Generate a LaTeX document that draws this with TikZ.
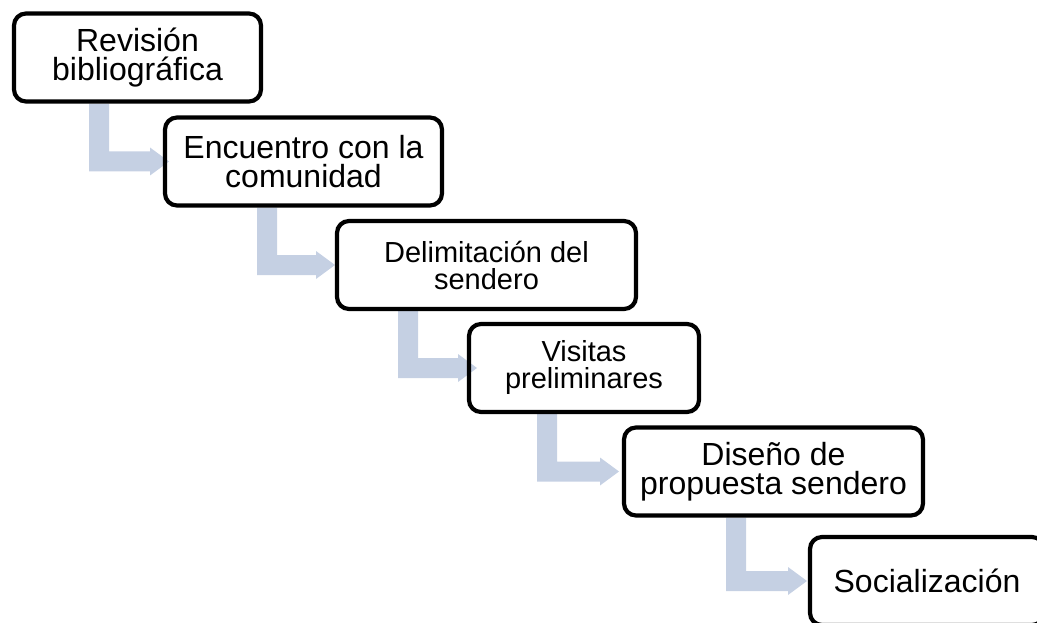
\documentclass[tikz,border=0pt]{standalone}
\usepackage{fontspec}
\setmainfont{Liberation Sans}
\usetikzlibrary{calc}
\definecolor{arrowblue}{RGB}{197,208,227}
\tikzset{
  stepbox/.style={draw=black, line width=4.2pt, rounded corners=12pt, align=center,
    minimum height=88pt, inner sep=2pt, font=\fontsize{32}{29.5}\selectfont},
  smallbox/.style={stepbox, font=\fontsize{29}{27}\selectfont},
  flowarr/.style={fill=arrowblue, draw=none}
}
\newcommand\flowarrow[4]{%
  \fill[flowarr] let \p1=(#1.south), \p2=(#2.center) in
   (#3pt,\y1) -- (#3pt+20pt,\y1) -- (#3pt+20pt,\y2+10pt) -- (#4pt-19pt,\y2+10pt)
   -- (#4pt-19pt,\y2+14pt) -- (#4pt,\y2) -- (#4pt-19pt,\y2-14pt) -- (#4pt-19pt,\y2-10pt)
   -- (#3pt,\y2-10pt) -- cycle;}
\begin{document}
\begin{tikzpicture}[x=1pt,y=1pt]
\useasboundingbox (0,0) rectangle (1037,-623);
% placement of the boxes (named, used by the arrows)
\path (137.5,-57.5) node[stepbox, draw=none, minimum width=247pt] (b1) {\phantom{X}}
      (303.5,-161.5) node[stepbox, draw=none, minimum width=277pt] (b2) {\phantom{X}}
      (486.5,-265) node[stepbox, draw=none, minimum width=299pt] (b3) {\phantom{X}}
      (584,-368) node[stepbox, draw=none, minimum width=230pt] (b4) {\phantom{X}}
      (773.5,-471.5) node[stepbox, draw=none, minimum width=299pt] (b5) {\phantom{X}}
      (927,-581) node[stepbox, draw=none, minimum width=234pt] (b6) {\phantom{X}};
% arrows
\flowarrow{b1}{b2}{89}{169}
\flowarrow{b2}{b3}{257}{335}
\flowarrow{b3}{b4}{398}{477}
\flowarrow{b4}{b5}{537}{619}
\flowarrow{b5}{b6}{726}{807}
% boxes
\node[stepbox, minimum width=247pt] (n1) at (b1) {Revisión\\bibliográfica};
\node[stepbox, minimum width=277pt] (n2) at (b2) {Encuentro con la\\comunidad};
\node[smallbox, minimum width=299pt] (n3) at (b3) {Delimitación del\\sendero};
\node[smallbox, minimum width=230pt] (n4) at (b4) {Visitas\\preliminares};
\node[stepbox, minimum width=299pt] (n5) at (b5) {Diseño de\\propuesta sendero};
\node[stepbox, minimum width=234pt] (n6) at (b6) {Socialización};
\end{tikzpicture}
\end{document}
